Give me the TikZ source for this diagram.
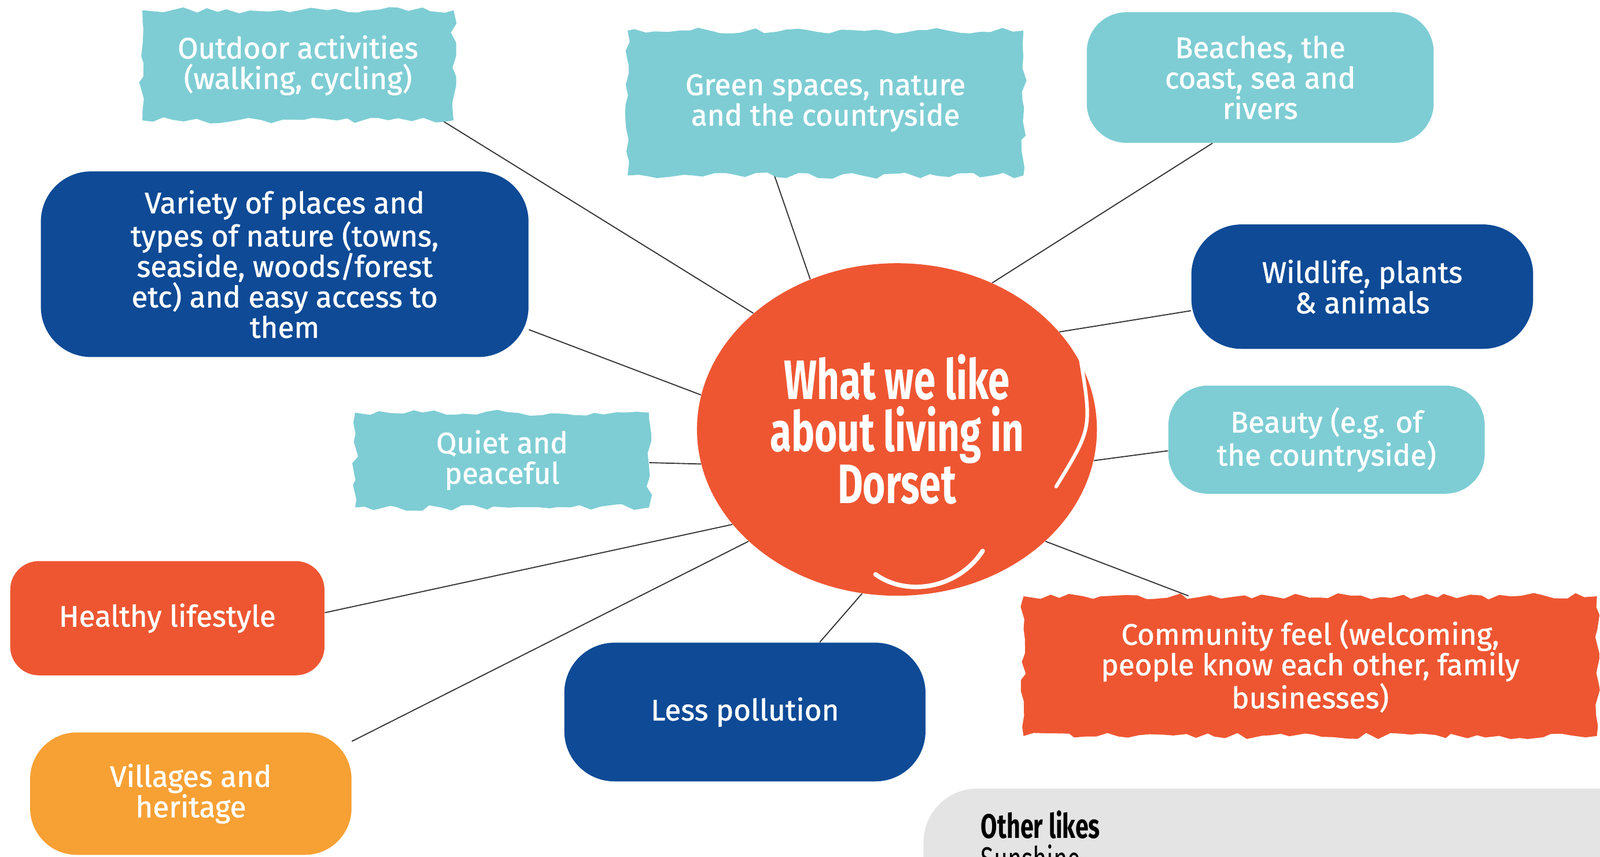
\documentclass[tikz,border=0pt]{standalone}
\usepackage{fontspec}
\setmainfont{Fira Sans}[FakeBold=1.2]
\newfontfamily\headfont{Fira Sans}[FakeStretch=0.7]
\usetikzlibrary{shapes.geometric, decorations.pathmorphing, backgrounds}

\definecolor{dorsetteal}{RGB}{126,205,212}
\definecolor{dorsetblue}{RGB}{14,74,150}
\definecolor{dorsetred}{RGB}{238,86,50}
\definecolor{dorsetorange}{RGB}{247,160,52}
\definecolor{othergrey}{RGB}{228,228,228}

\begin{document}
\begin{tikzpicture}[x=0.02cm, y=-0.02cm,
  label node/.style={text=white, align=center, inner sep=2pt, font=\fontsize{16.5}{17}\selectfont},
  teal node/.style={label node, fill=dorsetteal, rounded corners=22pt},
  brush node/.style={label node, fill=dorsetteal, sharp corners, decorate, decoration={random steps, segment length=6pt, amplitude=1.8pt}},
  blue node/.style={label node, fill=dorsetblue, rounded corners=28pt},
  red node/.style={label node, fill=dorsetred, rounded corners=16pt},
  orange node/.style={label node, fill=dorsetorange, rounded corners=26pt},
  centre node/.style={ellipse, fill=dorsetred, text=white, align=center, inner sep=0pt, font=\headfont\bfseries\fontsize{31}{29}\selectfont}]

  \useasboundingbox (0,0) rectangle (1568,840);
  \clip (0,0) rectangle (1568,840);

  \node[centre node, minimum width=7.84cm, minimum height=6.52cm] (C) at (879,421) {What we like\\about living in\\Dorset};
  \draw[white, line width=2pt, line cap=round] (1059,352) .. controls (1070,420) .. (1035,477);
  \draw[white, line width=2.5pt, line cap=round] (858,563) .. controls (890,586) and (940,576) .. (963,540);

  \node[brush node, minimum width=6.1cm, minimum height=2.16cm] (outdoor) at (292,64) {Outdoor activities\\(walking, cycling)};
  \node[brush node, minimum width=7.76cm, minimum height=2.84cm] (green) at (809,101) {Green spaces, nature\\and the countryside};
  \node[teal node, minimum width=6.8cm, minimum height=2.56cm] (beaches) at (1235,76) {Beaches, the\\coast, sea and\\rivers};
  \node[blue node, minimum width=9.56cm, minimum height=3.64cm] (variety) at (279,259) {Variety of places and\\types of nature (towns,\\seaside, woods/forest\\etc) and easy access to\\them};
  \node[blue node, minimum width=6.7cm, minimum height=2.44cm] (wildlife) at (1335,281) {Wildlife, plants\\\& animals};
  \node[brush node, minimum width=5.76cm, minimum height=1.86cm] (quiet) at (492,451) {Quiet and\\peaceful};
  \node[teal node, minimum width=6.2cm, minimum height=2.12cm] (beauty) at (1300,431) {Beauty (e.g. of\\the countryside)};
  \node[red node, minimum width=6.16cm, minimum height=2.24cm] (healthy) at (164,606) {Healthy lifestyle};
  \node[brush node, fill=dorsetred, minimum width=11.24cm, minimum height=2.74cm] (community) at (1284,653) {Community feel (welcoming,\\people know each other, family\\businesses)};
  \node[blue node, minimum width=7.08cm, minimum height=2.72cm] (pollution) at (730,698) {Less pollution};
  \node[orange node, minimum width=6.3cm, minimum height=2.4cm] (villages) at (187,778) {Villages and\\heritage};

  \fill[othergrey, rounded corners=30pt] (905,773) rectangle (1700,1000);
  \node[anchor=north west, align=left, inner sep=0pt, font=\headfont\fontsize{19}{18.5}\selectfont] (other) at (961,794) {{\bfseries Other likes}\\Sunshine};

  \begin{scope}[on background layer]
    \path[-, draw=black!80, line width=0.6pt]
      (C.141.5) edge (outdoor.-21)
      (C.120) edge (green.235)
      (C.57.6) edge (beaches.234)
      (C.170) edge (variety.-15)
      (C.31) edge (wildlife.188)
      (C.190) edge (quiet.-1)
      (C.-9) edge (beauty.184.6)
      (C.210.6) edge (healthy.2)
      (C.217.6) edge (villages.18)
      (C.258) edge (pollution.43)
      (C.-37) edge (community.150)
    ;
  \end{scope}
\end{tikzpicture}
\end{document}
